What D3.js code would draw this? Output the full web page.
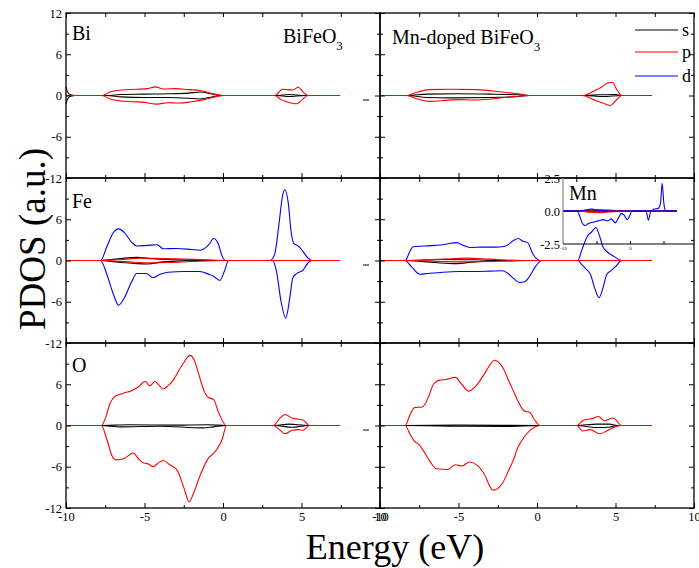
<!DOCTYPE html>
<html>
<head>
<meta charset="utf-8">
<script src="https://cdn.jsdelivr.net/npm/d3@7"></script>
<style>
  body { margin: 0; background: #fff; }
  svg { display: block; font-family: "Liberation Serif", "Times New Roman", serif; }
  .tick text { font-family: "Liberation Serif", serif; font-size: 12.5px; fill: #000; }
  .domain { display: none; }
  .tick line { stroke: #000; stroke-width: 1; }
</style>
</head>
<body>
<div id="chart"></div>
<script>
// ---- data: [energy (eV), PDOS] pairs, spin up (+) and spin down (-) ----
const energyTicks = [-10, -5, 0, 5, 10];
const energyMinor = [-7.5, -2.5, 2.5, 7.5];
const pdosTicks = [-12, -6, 0, 6, 12];
const pdosMinor = [-9, -3, 3, 9];
const insetTicks = [-2.5, 0, 2.5];
const rowLabels = ['Bi', 'Fe', 'O'];
const columnTitles = ['BiFeO', 'Mn-doped BiFeO'];
const orbitals = ['s', 'p', 'd'];
const orbitalColors = {s: '#000000', p: '#ff0000', d: '#0000ff'};

// Bi, pure BiFeO3
const biPure_s_up = [[-10,1.2],[-9.9,0.5],[-9.7,0.1],[-9.4,0],[-7.4,0],[-6.5,0.15],[-5,0.2],[-3.5,0.25],[-2.2,0.35],[-1.4,0.5],[-0.8,0.25],[-0.1,0],[3.4,0],[4.2,0.15],[5.2,0],[7.45,0]];
const biPure_s_dn = [[-10,-1.2],[-9.9,-0.5],[-9.7,-0.1],[-9.4,0],[-7.4,0],[-6.5,-0.2],[-5,-0.3],[-3.5,-0.3],[-2.2,-0.4],[-1.5,-0.5],[-0.8,-0.25],[-0.1,0],[3.4,0],[4.2,-0.15],[5.2,0],[7.45,0]];
const biPure_p_up = [[-10,0],[-7.7,0],[-7.2,0.5],[-6.5,0.8],[-5.5,0.9],[-4.8,1.0],[-4.3,1.25],[-3.8,0.95],[-3,1.0],[-2.2,0.85],[-1.4,0.7],[-0.7,0.3],[0,0],[3.3,0],[3.8,0.9],[4.45,0.8],[4.8,1.2],[5.1,0.5],[5.4,0],[7.45,0]];
const biPure_p_dn = [[-10,0],[-7.7,0],[-7.2,-0.5],[-6.5,-0.8],[-5.8,-0.9],[-5,-1.0],[-4.2,-1.25],[-3.5,-1.05],[-2.8,-1.1],[-2,-0.9],[-1.2,-0.6],[-0.5,-0.2],[0.1,0],[3.3,0],[3.7,-0.6],[4.05,-0.9],[4.7,-1.2],[5.05,-0.6],[5.4,0],[7.45,0]];

// Bi, Mn-doped BiFeO3
const biMn_s_up = [[-10,0],[-8.3,0],[-7,0.2],[-5,0.25],[-3,0.2],[-1.2,0.1],[-0.5,0],[3.0,0],[4.0,0.1],[5.0,0.15],[5.4,0],[7.3,0]];
const biMn_s_dn = [[-10,0],[-8.3,0],[-7,-0.3],[-5.5,-0.35],[-3,-0.3],[-1.2,-0.15],[-0.5,0],[3,0],[4.2,-0.15],[5.4,0],[7.3,0]];
const biMn_p_up = [[-10,0],[-8.3,0],[-7.6,0.5],[-6.9,0.85],[-5.5,0.9],[-3.8,0.85],[-2.2,0.5],[-1.2,0.25],[-0.45,0],[2.9,0],[3.5,0.5],[4.1,1.2],[4.6,1.9],[4.8,1.9],[5.1,0.8],[5.4,0],[7.3,0]];
const biMn_p_dn = [[-10,0],[-8.3,0],[-7.6,-0.5],[-6.9,-0.85],[-5,-0.6],[-4,-0.65],[-2,-0.3],[-0.45,0],[2.9,0],[3.6,-0.6],[4.2,-1.1],[4.65,-1.45],[5.0,-0.8],[5.4,0],[7.3,0]];

// Fe, pure BiFeO3
const fePure_s_up = [[-10,0],[-7.8,0],[-6.5,0.3],[-5.5,0.45],[-4.5,0.25],[-3,0.1],[-1,0],[7.45,0]];
const fePure_s_dn = [[-10,0],[-7.8,0],[-6.5,-0.3],[-5.5,-0.45],[-4.8,-0.5],[-3.8,-0.2],[-1,0],[7.45,0]];
const fePure_p_up = [[-10,0],[-7.8,0],[-6.5,0.15],[-5.2,0.35],[-4,0.3],[-2.5,0.2],[-1,0.1],[0.1,0],[7.45,0]];
const fePure_p_dn = [[-10,0],[-7.8,0],[-6,-0.2],[-4.8,-0.35],[-3.5,-0.3],[-2,-0.15],[0.1,0],[7.45,0]];
const fePure_d_up = [[-10,0],[-7.8,0],[-7.4,2.0],[-7.0,4.0],[-6.65,4.6],[-6.3,4.1],[-5.8,2.6],[-5.5,2.1],[-4.8,2.2],[-4.2,2.3],[-3.8,1.7],[-3.0,1.75],[-2.0,1.6],[-1.45,1.5],[-0.9,2.3],[-0.6,3.2],[-0.3,2.4],[-0.05,0.6],[0.15,0],[3.0,0],[3.3,1.0],[3.55,5.0],[3.8,9.5],[3.95,10.3],[4.15,8.5],[4.35,4.0],[4.5,2.5],[4.8,2.1],[5.1,1.3],[5.4,0.4],[5.65,0],[7.45,0]];
const fePure_d_dn = [[-10,0],[-7.8,0],[-7.4,-2.0],[-7.0,-4.8],[-6.65,-6.5],[-6.3,-5.5],[-5.8,-3.0],[-5.5,-1.9],[-4.9,-1.9],[-4.45,-2.5],[-4.0,-2.0],[-3.5,-1.7],[-2.5,-1.6],[-1.5,-1.6],[-0.9,-2.0],[-0.6,-2.3],[-0.2,-2.9],[0.1,-1.5],[0.35,0],[3.15,0],[3.4,-1.5],[3.7,-6.0],[4.0,-8.4],[4.25,-5.5],[4.45,-2.5],[4.7,-1.9],[5.1,-1.4],[5.4,-0.4],[5.65,0],[7.45,0]];

// Fe, Mn-doped BiFeO3
const feMn_s_up = [[-10,0],[-8.4,0],[-6,0.15],[-4,0.1],[-2,0],[7.3,0]];
const feMn_s_dn = [[-10,0],[-8.4,0],[-6.5,-0.3],[-5.2,-0.45],[-4,-0.2],[-2,0],[7.3,0]];
const feMn_p_up = [[-10,0],[-8.4,0],[-6,0.2],[-4.5,0.35],[-3,0.2],[-1,0],[7.3,0]];
const feMn_p_dn = [[-10,0],[-8.4,0],[-6,-0.15],[-4.5,-0.2],[-2,-0.1],[-0.5,0],[7.3,0]];
const feMn_d_up = [[-10,0],[-8.4,0],[-8.1,1.3],[-7.9,2.0],[-7.2,2.1],[-6.5,2.2],[-6.0,2.3],[-5.5,2.5],[-5.1,2.6],[-4.7,2.2],[-4.27,1.9],[-3.5,1.95],[-2.6,1.95],[-2.2,2.0],[-1.9,2.2],[-1.5,2.9],[-1.2,3.2],[-0.9,2.8],[-0.6,2.6],[-0.25,0.9],[0.2,0],[2.6,0],[2.85,1.5],[3.2,3.5],[3.5,4.2],[3.75,4.8],[3.95,3.8],[4.2,2.0],[4.5,1.2],[4.9,0.6],[5.4,0],[7.3,0]];
const feMn_d_dn = [[-10,0],[-8.4,0],[-8.0,-0.9],[-7.45,-2.0],[-7.0,-1.9],[-6,-1.7],[-5,-1.6],[-4,-1.6],[-3,-1.55],[-2.2,-1.5],[-1.9,-1.8],[-1.5,-2.6],[-1.1,-3.2],[-0.8,-3.1],[-0.5,-2.4],[-0.1,-0.9],[0.3,0],[2.6,0],[2.85,-0.6],[3.1,-1.2],[3.4,-2.0],[3.7,-4.2],[3.95,-5.4],[4.2,-4.0],[4.45,-2.0],[4.7,-1.5],[5.0,-0.9],[5.4,0],[7.3,0]];

// O, pure BiFeO3
const oPure_s_up = [[-10,0],[-7.8,0],[-6,0.1],[-3,0.05],[-1,0.1],[0.2,0],[3.3,0],[4.2,0.2],[5.4,0],[7.45,0]];
const oPure_s_dn = [[-10,0],[-7.8,0],[-6.5,-0.2],[-4,-0.1],[-1.3,-0.35],[-0.6,-0.2],[0.2,0],[3.3,0],[4.4,-0.25],[5.4,0],[7.45,0]];
const oPure_p_up = [[-10,0],[-7.75,0],[-7.5,1.0],[-7.2,3.2],[-6.9,4.2],[-6.6,4.5],[-6.2,4.8],[-5.9,5.0],[-5.4,5.6],[-4.97,6.4],[-4.65,5.8],[-4.33,6.4],[-4.05,5.8],[-3.8,5.3],[-3.5,5.8],[-3.2,6.5],[-2.6,8.8],[-2.1,10.2],[-1.85,9.6],[-1.55,7.5],[-1.2,5.0],[-0.95,4.1],[-0.6,3.8],[-0.3,2.0],[0.22,0],[3.2,0],[3.6,1.0],[3.95,1.6],[4.4,1.1],[4.8,0.9],[5.1,0.8],[5.5,0],[7.45,0]];
const oPure_p_dn = [[-10,0],[-7.75,0],[-7.4,-2.0],[-7.05,-4.5],[-6.8,-5.0],[-6.3,-4.8],[-5.7,-4.0],[-5.4,-4.8],[-5.1,-5.4],[-4.75,-5.6],[-4.45,-6.0],[-4.1,-5.4],[-3.8,-5.1],[-3.4,-5.7],[-2.9,-6.6],[-2.5,-9.0],[-2.15,-11.1],[-1.9,-10.0],[-1.5,-7.5],[-1.0,-5.0],[-0.4,-3.5],[-0.05,-2.0],[0.22,0],[3.2,0],[3.6,-0.6],[3.95,-1.2],[4.4,-0.7],[4.8,-0.6],[5.1,-0.7],[5.5,0],[7.45,0]];

// O, Mn-doped BiFeO3
const oMn_s_up = [[-10,0],[-8.4,0],[-5,0.05],[0.2,0],[2.5,0],[3.8,0.2],[4.6,0.2],[5.1,0],[7.3,0]];
const oMn_s_dn = [[-10,0],[-8.4,0],[-5,-0.1],[-2,-0.15],[0.2,0],[2.5,0],[3.8,-0.3],[4.6,-0.25],[5.1,0],[7.3,0]];
const oMn_p_up = [[-10,0],[-8.4,0],[-8.1,1.5],[-7.8,2.6],[-7.3,2.7],[-6.9,4.2],[-6.6,6.0],[-6.2,6.6],[-5.8,6.7],[-5.2,7.0],[-4.8,6.0],[-4.35,5.0],[-3.8,6.0],[-3.3,7.7],[-2.7,9.5],[-2.2,8.5],[-1.8,6.5],[-1.5,5.0],[-1.2,3.5],[-0.8,2.1],[-0.45,1.9],[-0.15,0.8],[0.2,0],[2.55,0],[2.9,0.7],[3.2,0.9],[3.5,1.0],[3.9,1.3],[4.3,0.7],[4.85,1.1],[5.4,0],[7.3,0]];
const oMn_p_dn = [[-10,0],[-8.4,0],[-8.1,-1.2],[-7.8,-2.3],[-7.5,-2.8],[-7.2,-3.8],[-6.8,-5.3],[-6.4,-6.3],[-5.7,-6.4],[-5.2,-5.7],[-4.8,-5.9],[-4.3,-5.3],[-3.8,-5.8],[-3.4,-6.9],[-2.8,-9.4],[-2.2,-8.4],[-1.8,-6.5],[-1.5,-5.0],[-1.2,-3.1],[0.25,0],[2.55,0],[2.9,-0.8],[3.4,-0.6],[4.0,-1.2],[4.6,-0.6],[5.3,0],[7.3,0]];

// Mn inset (Mn-doped BiFeO3)
const mn_s_up = [[-10,0],[7.0,0]];
const mn_s_dn = [[-10,0],[7.0,0]];
const mn_p_up = [[-10,0],[-7.5,0],[-6,0.1],[-4.5,0.1],[-2.5,0.05],[-1,0],[7.0,0]];
const mn_p_dn = [[-10,0],[-7.5,0],[-6,-0.1],[-4.5,-0.12],[-2.5,-0.05],[-1,0],[7.0,0]];
const mn_d_up = [[-10,0],[-7.5,0],[-6.8,0.05],[-5.8,0.15],[-5.2,0.1],[-4.2,0.05],[-3,0],[3.2,0],[3.6,0.15],[4.2,0.2],[4.55,0.6],[4.8,2.1],[5.05,0.6],[5.3,0.05],[5.6,0],[7.0,0]];
const mn_d_dn = [[-10,0],[-7.9,0],[-7.5,-0.4],[-7.1,-0.95],[-6.7,-1.1],[-6.2,-0.95],[-5.5,-0.85],[-4.7,-0.75],[-4.0,-0.65],[-3.3,-0.75],[-2.8,-0.6],[-2.2,-0.9],[-1.8,-0.6],[-1.3,-0.2],[-0.9,-0.3],[-0.4,-0.65],[0,-0.3],[0.3,0],[2.4,0],[2.75,-0.7],[3.1,-0.05],[3.4,0],[7.0,0]];

// ---- panels built from the arrays above (row, column, curves in draw order) ----
const panels = [
  {row: 0, col: 0, curves: [['s', biPure_s_up], ['s', biPure_s_dn], ['p', biPure_p_up], ['p', biPure_p_dn]]},
  {row: 0, col: 1, curves: [['s', biMn_s_up], ['s', biMn_s_dn], ['p', biMn_p_up], ['p', biMn_p_dn]]},
  {row: 1, col: 0, curves: [['d', fePure_d_up], ['d', fePure_d_dn], ['s', fePure_s_up], ['s', fePure_s_dn], ['p', fePure_p_up], ['p', fePure_p_dn]]},
  {row: 1, col: 1, curves: [['d', feMn_d_up], ['d', feMn_d_dn], ['s', feMn_s_up], ['s', feMn_s_dn], ['p', feMn_p_up], ['p', feMn_p_dn]]},
  {row: 2, col: 0, curves: [['s', oPure_s_up], ['s', oPure_s_dn], ['p', oPure_p_up], ['p', oPure_p_dn]]},
  {row: 2, col: 1, curves: [['s', oMn_s_up], ['s', oMn_s_dn], ['p', oMn_p_up], ['p', oMn_p_dn]]}
];
const insetCurves = [['s', mn_s_up], ['s', mn_s_dn], ['p', mn_p_up], ['p', mn_p_dn], ['d', mn_d_up], ['d', mn_d_dn]];

// ---- layout ----
const W = 699, H = 568;
const plotLeft = 66, plotTop = 13, panelW = 314, panelH = 165;

const svg = d3.select('#chart').append('svg')
  .attr('width', W)
  .attr('height', H);

const fmt = d => String(d);

panels.forEach(p => {
  const x0 = plotLeft + p.col * panelW;
  const y0 = plotTop + p.row * panelH;
  const x = d3.scaleLinear().domain([-10, 10]).range([x0, x0 + panelW]);
  const y = d3.scaleLinear().domain([-12, 12]).range([y0 + panelH, y0]);
  const g = svg.append('g');

  // curves
  const line = d3.line()
    .x(d => x(d[0]))
    .y(d => y(d[1]))
    .curve(d3.curveMonotoneX);
  p.curves.forEach(([orb, data]) => {
    g.append('path')
      .datum(data)
      .attr('d', line)
      .attr('fill', 'none')
      .attr('stroke', orbitalColors[orb])
      .attr('stroke-width', 1.1);
  });

  // left axis (labels on the left column only)
  const yFmt = d => (p.col === 0 && !(d === 12 && p.row > 0)) ? fmt(d) : '';
  g.append('g')
    .attr('transform', `translate(${x0},0)`)
    .call(d3.axisLeft(y).tickValues(pdosTicks).tickSizeInner(-5).tickSizeOuter(0).tickPadding(4).tickFormat(yFmt));
  g.append('g')
    .attr('transform', `translate(${x0},0)`)
    .call(d3.axisLeft(y).tickValues(pdosMinor).tickSizeInner(-3).tickSizeOuter(0).tickFormat(''));
  // right axis
  g.append('g')
    .attr('transform', `translate(${x0 + panelW},0)`)
    .call(d3.axisRight(y).tickValues(pdosTicks).tickSizeInner(-5).tickSizeOuter(0).tickFormat(''));
  g.append('g')
    .attr('transform', `translate(${x0 + panelW},0)`)
    .call(d3.axisRight(y).tickValues(pdosMinor).tickSizeInner(-3).tickSizeOuter(0).tickFormat(''));
  // top axis
  g.append('g')
    .attr('transform', `translate(0,${y0})`)
    .call(d3.axisTop(x).tickValues(energyTicks.concat(energyMinor)).tickSizeInner(-4).tickSizeOuter(0).tickFormat(''));
  // bottom axis (labels on the last row only)
  g.append('g')
    .attr('transform', `translate(0,${y0 + panelH})`)
    .call(d3.axisBottom(x).tickValues(energyTicks).tickSizeInner(-5).tickSizeOuter(0).tickPadding(4)
      .tickFormat(p.row === 2 ? fmt : ''));
  g.append('g')
    .attr('transform', `translate(0,${y0 + panelH})`)
    .call(d3.axisBottom(x).tickValues(energyMinor).tickSizeInner(-3).tickSizeOuter(0).tickFormat(''));

  // frame
  g.append('rect')
    .attr('x', x0).attr('y', y0)
    .attr('width', panelW).attr('height', panelH)
    .attr('fill', 'none')
    .attr('stroke', '#000')
    .attr('stroke-width', 1.3);

  if (p.col === 0) {
    // element label
    g.append('text')
      .attr('x', x0 + 6)
      .attr('y', y0 + [27, 30, 29][p.row])
      .style('font-size', '20px')
      .text(rowLabels[p.row]);
    // stray dash by the right edge, at the zero line
    g.append('line')
      .attr('x1', x0 + panelW - 17).attr('x2', x0 + panelW - 11)
      .attr('y1', y(0) + 4.5).attr('y2', y(0) + 4.5)
      .attr('stroke', '#000').attr('stroke-width', 1);
  }
});

// column titles with subscript 3
[[283, 43, columnTitles[0]], [392, 44, columnTitles[1]]].forEach(([tx, ty, label]) => {
  const t = svg.append('text')
    .attr('x', tx).attr('y', ty)
    .style('font-size', '20px');
  t.append('tspan').text(label);
  t.append('tspan').attr('dy', 7).style('font-size', '13px').text('3');
});

// legend
const legendY = [30, 52, 76];
orbitals.forEach((o, i) => {
  svg.append('line')
    .attr('x1', 635).attr('x2', 678)
    .attr('y1', legendY[i]).attr('y2', legendY[i])
    .attr('stroke', orbitalColors[o])
    .attr('stroke-width', 1.2);
  svg.append('text')
    .attr('x', 682).attr('y', legendY[i] + 6)
    .style('font-size', '18px')
    .text(o);
});

// ---- Mn inset ----
const xi = d3.scaleLinear().domain([-10, 10]).range([563, 697]);
const yi = d3.scaleLinear().domain([-2.5, 2.5]).range([244, 178]);
const inset = svg.append('g');
const iline = d3.line()
  .x(d => xi(d[0]))
  .y(d => yi(d[1]))
  .curve(d3.curveMonotoneX);
insetCurves.forEach(([orb, data]) => {
  inset.append('path')
    .datum(data)
    .attr('d', iline)
    .attr('fill', 'none')
    .attr('stroke', orbitalColors[orb])
    .attr('stroke-width', 1.1);
});
inset.append('line')
  .attr('x1', xi(-10)).attr('x2', xi(-10))
  .attr('y1', yi(2.5)).attr('y2', yi(-2.5))
  .attr('stroke', '#888').attr('stroke-width', 1.2);
inset.append('line')
  .attr('x1', xi(-10)).attr('x2', plotLeft + 2 * panelW)
  .attr('y1', yi(-2.5)).attr('y2', yi(-2.5))
  .attr('stroke', '#000').attr('stroke-width', 1.2);
inset.append('g')
  .attr('transform', `translate(${xi(-10)},0)`)
  .call(d3.axisLeft(yi).tickValues(insetTicks).tickSizeInner(0).tickSizeOuter(0).tickPadding(3)
    .tickFormat(d => d.toFixed(1)));
inset.append('g')
  .attr('transform', `translate(0,${yi(-2.5)})`)
  .call(d3.axisBottom(xi).tickValues([-5, 0, 5]).tickSizeInner(-3).tickSizeOuter(0).tickFormat(''));
inset.append('g')
  .attr('transform', `translate(0,${yi(-2.5)})`)
  .call(d3.axisBottom(xi).tickValues([-10, 0]).tickSize(0).tickPadding(2).tickFormat(fmt))
  .selectAll('text').style('font-size', '5px');
inset.append('text')
  .attr('x', 569).attr('y', 200)
  .style('font-size', '20px')
  .text('Mn');

// ---- axis titles ----
svg.append('text')
  .attr('x', 395).attr('y', 559)
  .attr('text-anchor', 'middle')
  .style('font-size', '36px')
  .text('Energy (eV)');
svg.append('text')
  .attr('transform', 'translate(45,239) rotate(-90)')
  .attr('text-anchor', 'middle')
  .style('font-size', '37px')
  .text('PDOS (a.u.)');
</script>
</body>
</html>
